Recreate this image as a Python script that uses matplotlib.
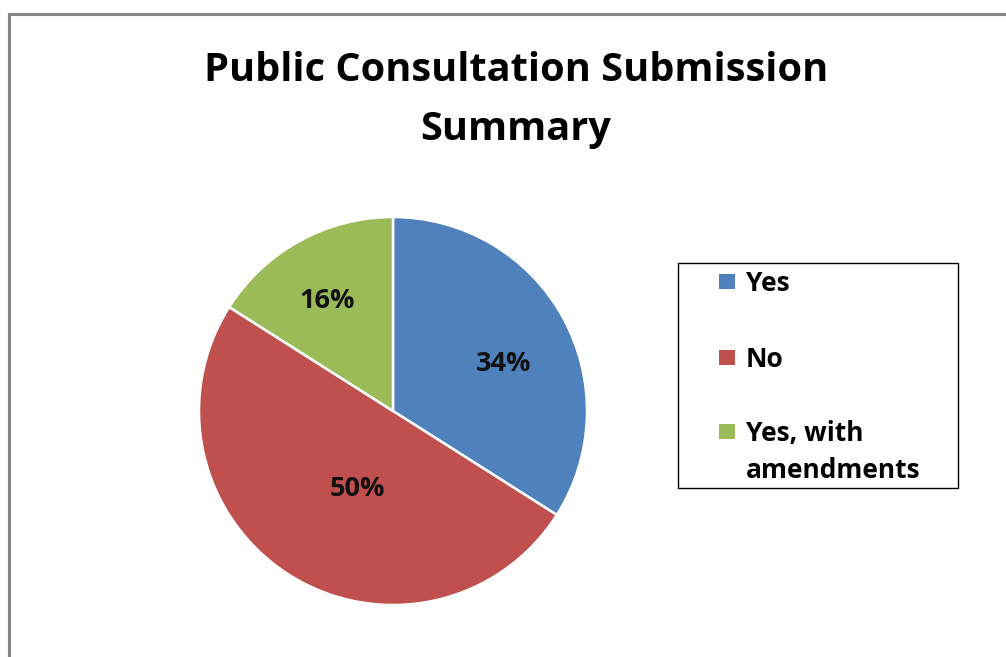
import numpy as np
import matplotlib
matplotlib.use('Agg')
import matplotlib.pyplot as plt
from matplotlib.patches import Rectangle
from matplotlib.lines import Line2D

plt.rcParams['font.family'] = ['Open Sans', 'DejaVu Sans']

# submission counts as shares of the total
categories = ['Yes', 'No', 'Yes, with\namendments']
shares = [34, 50, 16]
colors = ['#4F81BD', '#C0504D', '#9BBB59']
title = 'Public Consultation Submission\nSummary'

# where each percentage sits inside its wedge (radius fraction, angle nudge in deg)
label_r = [0.62, 0.44, 0.66]
label_dang = [-6, 8, 2]

W, H = 1006, 657
fig = plt.figure(figsize=(W / 100, H / 100), dpi=100)

def fx(px):
    return px / W

def fy(py):
    return 1 - py / H

def put_lines(x, y0, text, step, **kw):
    # one baseline per line so the first line sits where we ask
    for i, line in enumerate(text.split('\n')):
        fig.text(fx(x), fy(y0 + i * step), line, va='baseline', **kw)

# outer frame (top and left edges only, rest runs off the page)
fig.add_artist(Line2D([fx(9), fx(9)], [fy(14), 0], color='#858585', lw=2.2))
fig.add_artist(Line2D([fx(9), 1], [fy(14), fy(14)], color='#858585', lw=2.2))

put_lines(516, 81, title, 59, ha='center', fontsize=28.6,
          fontweight='bold', color='black')

# pie
cx, cy, rad = 393, 411, 194
ax = fig.add_axes([fx(cx - rad), fy(cy + rad), 2 * rad / W, 2 * rad / H])
wedges, _ = ax.pie(shares, colors=colors, startangle=90, counterclock=False,
                   wedgeprops=dict(edgecolor='white', linewidth=1.8))
ax.set_xlim(-1, 1)
ax.set_ylim(-1, 1)
ax.set_aspect('equal')
ax.axis('off')

for w, v, r, da in zip(wedges, shares, label_r, label_dang):
    mid = np.deg2rad((w.theta1 + w.theta2) / 2 + da)
    ax.text(r * np.cos(mid), r * np.sin(mid), f'{v}%', ha='center', va='center',
            fontsize=19.5, fontweight='bold', color='#111111')

# legend box
fig.add_artist(Rectangle((fx(678), fy(488)), fx(958) - fx(678), fy(263) - fy(488),
                         fill=False, edgecolor='black', lw=1.0))
row_y = [281, 357, 431]
for lab, c, yy in zip(categories, colors, row_y):
    fig.add_artist(Rectangle((fx(719), fy(yy + 7.5)), fx(16), 15 / H,
                             facecolor=c, edgecolor='none'))
    put_lines(746, yy + 10, lab, 37.5, ha='left', fontsize=19,
              fontweight='bold', color='black')

fig.savefig('out.png', dpi=100, facecolor='white')
